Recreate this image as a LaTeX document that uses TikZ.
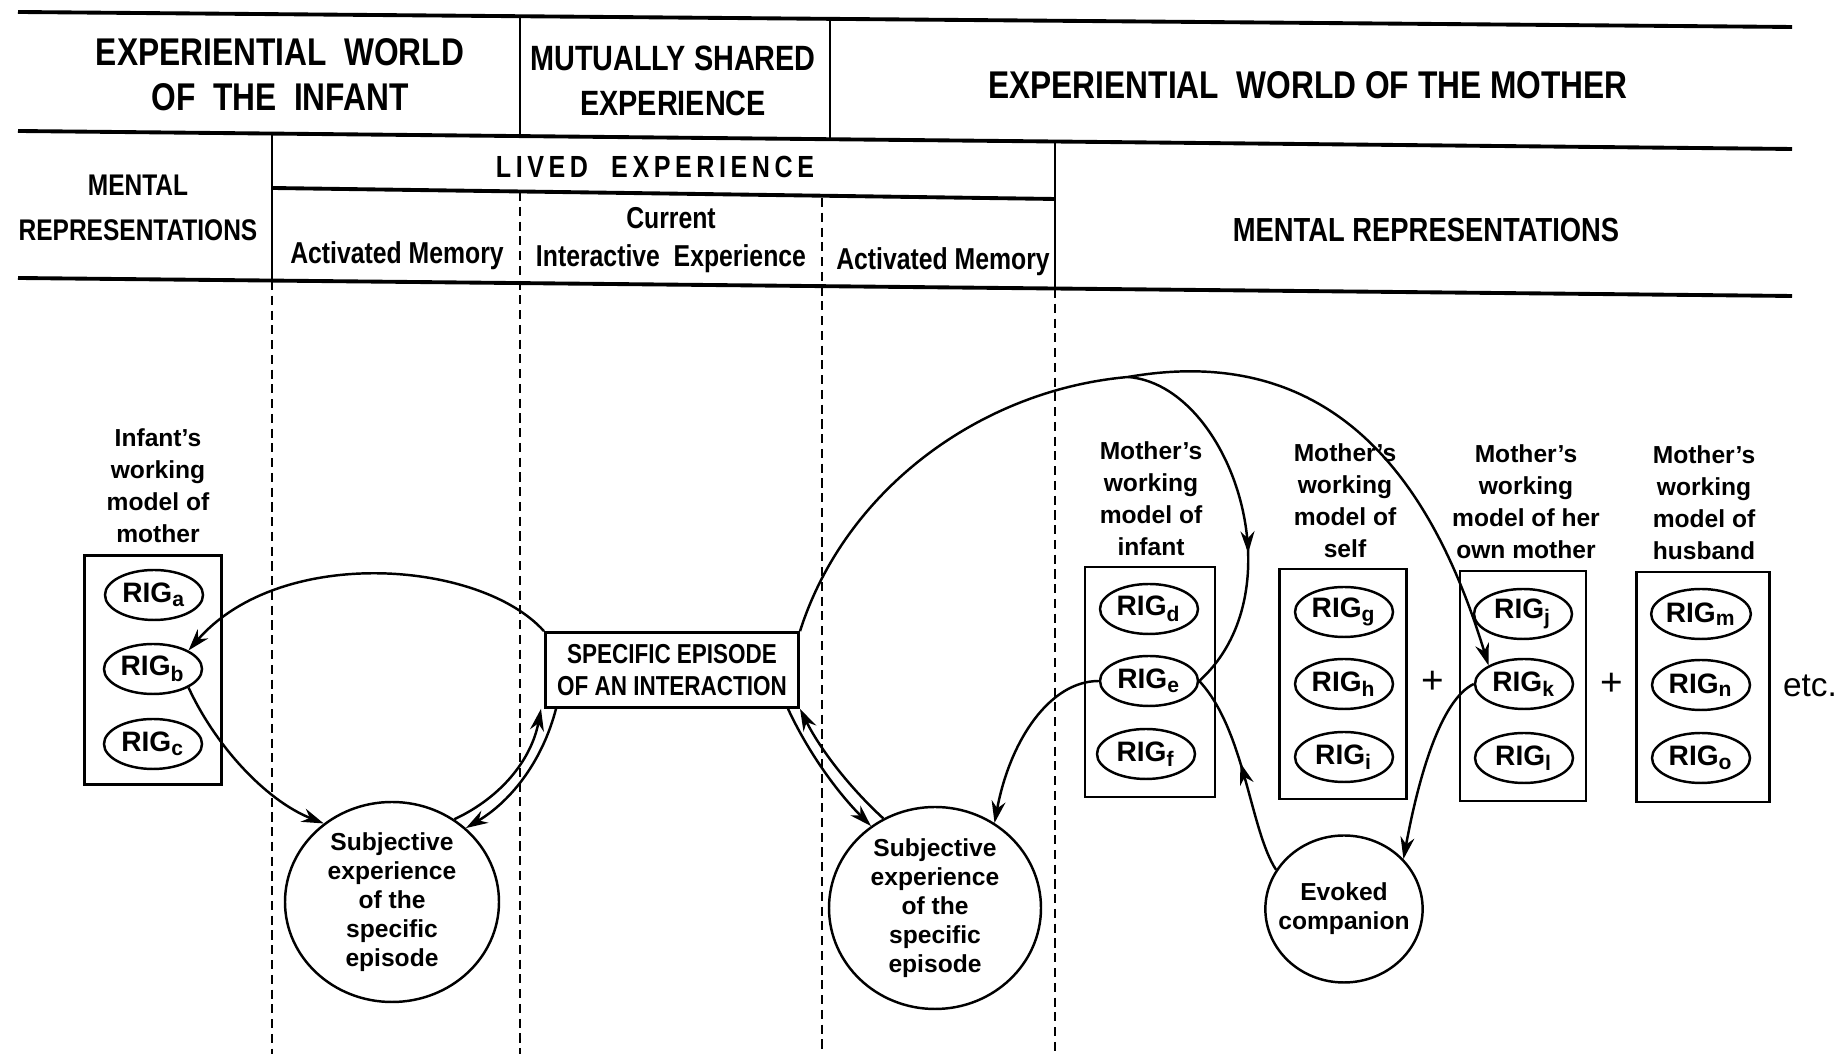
\documentclass[tikz,border=0pt]{standalone}
\usepackage{fontspec}
\setsansfont{Liberation Sans}
\newfontfamily\condfont[FakeStretch=0.82]{Liberation Sans}
\usepackage{tikz}
\usetikzlibrary{shapes.geometric,arrows.meta,decorations.markings}

\tikzset{
  rulebar/.style={line width=1.1pt},
  cellrule/.style={line width=0.7pt},
  colrule/.style={line width=0.7pt,dash pattern=on 2.6pt off 1.6pt},
  hdtext/.style={align=center,font=\condfont\bfseries\fontsize{11}{12.8}\selectfont},
  subtext/.style={align=center,font=\condfont\bfseries\fontsize{8.6}{11}\selectfont},
  modelbox/.style={draw,line width=0.8pt,minimum width=13mm,minimum height=23mm,inner sep=0pt},
  rig/.style={ellipse,draw,line width=0.7pt,minimum width=9.8mm,minimum height=5mm,inner sep=0pt,
    font=\sffamily\bfseries\fontsize{8}{9}\selectfont},
  modellabel/.style={align=center,font=\sffamily\bfseries\fontsize{7}{9.1}\selectfont},
  bubble/.style={ellipse,draw,line width=0.7pt,align=center,inner sep=-1mm,
    font=\sffamily\bfseries\fontsize{7}{8.3}\selectfont},
  link/.style={line width=0.7pt},
  midarrow/.style={postaction={decorate,decoration={markings,
    mark=at position #1 with {\arrow{>}}}}}
}

\begin{document}
\begin{tikzpicture}[x=0.1mm,y=-0.1mm,>={Stealth[length=2.2mm,width=1.4mm]}]
  \useasboundingbox (0,0) rectangle (1848,1054);

  % Table rules
  \draw[rulebar] (18,12) -- (1792,27);
  \draw[rulebar] (18,131) -- (1792,149);
  \draw[rulebar] (272,188) -- (1055,199);
  \draw[rulebar] (18,278) -- (1792,296);
  \draw[cellrule] (520,16) -- (520,137);
  \draw[cellrule] (830,19) -- (830,141);
  \draw[cellrule] (272,134) -- (272,281);
  \draw[cellrule] (1055,142) -- (1055,289);

  % Column separators
  \draw[colrule] (272,281) -- (272,1054);
  \draw[colrule] (520,192) -- (520,1054);
  \draw[colrule] (822,198) -- (822,1054);
  \draw[colrule] (1055,289) -- (1055,1054);

  % Headings
  \node[hdtext] (hinf) at (280,75) {EXPERIENTIAL\ \ WORLD\\OF\ \ THE\ \ INFANT};
  \node[hdtext,font=\condfont\bfseries\fontsize{10}{12.8}\selectfont] (hshr) at (673,81)
    {MUTUALLY SHARED\\EXPERIENCE};
  \node[hdtext] (hmot) at (1308,85) {EXPERIENTIAL\ \ WORLD OF THE MOTHER};
  \node[hdtext,font=\condfont\bfseries\fontsize{8.5}{13}\selectfont] (hmri) at (138,208)
    {MENTAL\\REPRESENTATIONS};
  \node[hdtext,font=\condfont\bfseries\fontsize{8.7}{10}\selectfont\addfontfeature{LetterSpace=15}]
    (hliv) at (655,167) {LIVED\ \ EXPERIENCE};
  \node[subtext] (ham1) at (397,256) {Activated Memory};
  \node[subtext] (hcur) at (671,240) {Current\\Interactive\ \ Experience};
  \node[subtext] (ham2) at (943,262) {Activated Memory};
  \node[hdtext,font=\condfont\bfseries\fontsize{9.5}{11}\selectfont] (hmrm) at (1426,230)
    {MENTAL REPRESENTATIONS};

  % Infant's working model
  \node[modellabel] (linf) at (158,486) {Infant's\\working\\model of\\mother};
  \node[modelbox,minimum width=13.7mm,minimum height=22.9mm] (binf) at (153,670) {};
  \node[rig] (ra) at (154,595) {RIG\textsubscript{a}};
  \node[rig] (rb) at (153,669) {RIG\textsubscript{b}};
  \node[rig] (rc) at (153,744) {RIG\textsubscript{c}};

  % Episode and subjective experiences
  \node[draw,line width=0.8pt,minimum width=25.2mm,minimum height=7.4mm,align=center,
    font=\condfont\bfseries\fontsize{7.8}{9.1}\selectfont] (ep) at (672,670)
    {SPECIFIC EPISODE\\OF AN INTERACTION};
  \node[bubble,minimum width=21.4mm,minimum height=20mm] (ls) at (392,902)
    {Subjective\\experience\\of\ the\\specific\\episode};
  \node[bubble,minimum width=21.2mm,minimum height=20.2mm] (rs) at (935,908)
    {Subjective\\experience\\of\ the\\specific\\episode};
  \node[bubble,minimum width=15mm,minimum height=14.7mm] (ec) at (1344,909)
    {Evoked\\companion};

  % Mother's working models
  \node[modellabel] (lmi) at (1151,499) {Mother's\\working\\model of\\infant};
  \node[modelbox] (bmi) at (1150,682) {};
  \node[rig] (rd) at (1149,609) {RIG\textsubscript{d}};
  \node[rig] (re) at (1149,681) {RIG\textsubscript{e}};
  \node[rig] (rf) at (1146,754) {RIG\textsubscript{f}};

  \node[modellabel] (lms) at (1345,501) {Mother's\\working\\model of\\self};
  \node[modelbox,minimum width=12.7mm] (bms) at (1343,684) {};
  \node[rig] (rg) at (1344,612) {RIG\textsubscript{g}};
  \node[rig] (rh) at (1344,684) {RIG\textsubscript{h}};
  \node[rig] (ri) at (1344,757) {RIG\textsubscript{i}};

  \node[modellabel] (lmm) at (1526,502) {Mother's\\working\\model of her\\own mother};
  \node[modelbox,minimum width=12.6mm] (bmm) at (1523,686) {};
  \node[rig] (rj) at (1523,614) {RIG\textsubscript{j}};
  \node[rig] (rk) at (1524,684) {RIG\textsubscript{k}};
  \node[rig] (rl) at (1524,758) {RIG\textsubscript{l}};

  \node[modellabel] (lmh) at (1704,503) {Mother's\\working\\model of\\husband};
  \node[modelbox,minimum width=13.3mm] (bmh) at (1703,687) {};
  \node[rig] (rm) at (1701,614) {RIG\textsubscript{m}};
  \node[rig] (rn) at (1701,685) {RIG\textsubscript{n}};
  \node[rig] (ro) at (1701,758) {RIG\textsubscript{o}};

  \node[font=\sffamily\fontsize{11}{12}\selectfont] (plus1) at (1433,682) {+};
  \node[font=\sffamily\fontsize{11}{12}\selectfont] (plus2) at (1612,684) {+};
  \node[font=\sffamily\fontsize{9.5}{11}\selectfont] (etc) at (1810,686) {etc.};

  % Infant side links
  \draw[link,->] (ep.north west) .. controls (480,560) and (280,545) .. (rb.north east);
  \draw[link,->] (rb.south east) .. controls (215,745) and (265,800) .. (ls.131);
  \draw[link,->] (ls.53) .. controls (504,796) and (532,757) .. ([xshift=-0.3mm]ep.south west);
  \draw[link,->] ([xshift=1.2mm]ep.south west) .. controls (543,759) and (513,800) .. (ls.45);

  % Mother side links
  \draw[link,->] ([xshift=-1.2mm]ep.south east) .. controls (808,752) and (837,792) .. (rs.128);
  \draw[link,->] (rs.120) .. controls (849,787) and (820,749) .. (ep.south east);
  \coordinate (jn) at (1128,377);
  \draw[link] (ep.north east) .. controls (845,490) and (980,390) .. (jn);
  \draw[link,midarrow=0.62] (jn) .. controls (1230,385) and (1300,590) .. (re.east);
  \draw[link,->] (jn) .. controls (1340,340) and (1435,490) .. (rk.north west);
  \draw[link,->] (re.west) .. controls (1050,681) and (1010,740) .. (rs.55);
  \draw[link,midarrow=0.55] (ec.150) .. controls (1250,830) and (1245,730) .. (re.east);
  \draw[link,->] (rk.west) .. controls (1440,700) and (1418,780) .. (ec.40);
\end{tikzpicture}
\end{document}
